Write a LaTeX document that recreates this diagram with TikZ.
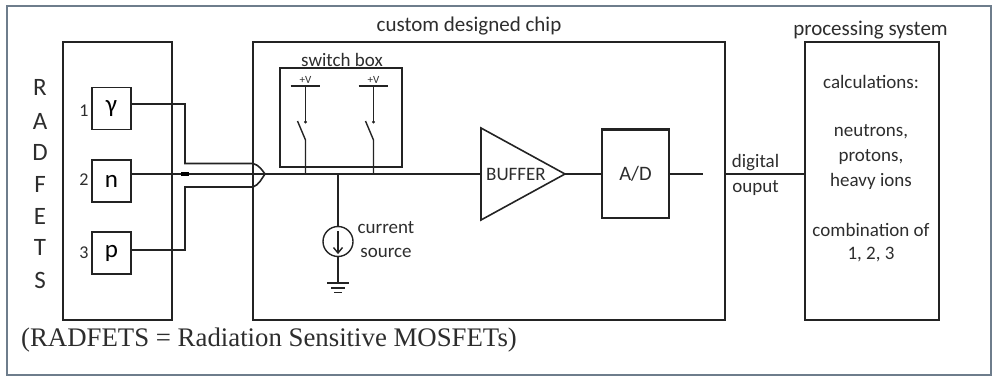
\documentclass[tikz,border=0pt]{standalone}
\usepackage{xcolor}
\usepackage{fontspec}
\setmainfont{Carlito}
\newfontfamily\notefont{Liberation Serif}
\usetikzlibrary{calc}
\definecolor{framegray}{RGB}{110,125,140}
\definecolor{inkgray}{RGB}{35,35,35}
\definecolor{textgray}{RGB}{45,45,45}

\begin{document}
\begin{tikzpicture}[
    x=1pt, y=-1pt,
    block/.style={rectangle, draw=inkgray, line width=1.5pt, inner sep=0pt},
    sensor/.style={block, minimum width=39pt, minimum height=42pt, font=\fontsize{25}{25}\selectfont},
    lbl/.style={inner sep=0pt, text=textgray, font=\fontsize{19}{19}\selectfont},
    head/.style={lbl, font=\fontsize{21}{21}\selectfont},
    num/.style={lbl, font=\fontsize{18}{18}\selectfont},
    letter/.style={lbl, font=\fontsize{25}{25}\selectfont},
    wire/.style={draw=inkgray, line width=1.6pt},
    signal/.style={draw=inkgray, line width=2.2pt},
    thin wire/.style={draw=inkgray, line width=1.4pt}
]
\useasboundingbox (0,0) rectangle (996,377);

% Outer frame
\node[rectangle, draw=framegray, line width=1.8pt, minimum width=984pt, minimum height=369pt, inner sep=0pt] (frame) at (499,190.5) {};

% Main blocks
\node[block, minimum width=109pt, minimum height=278pt] (radfets) at (117.5,181) {};
\node[block, minimum width=472pt, minimum height=278pt] (chip) at (489,181) {};
\node[block, minimum width=134pt, minimum height=278pt] (proc) at (872,181) {};
\node[block, minimum width=122pt, minimum height=99pt] (swbox) at (341,117.5) {};

% Sensors
\node[sensor] (s1) at (111.5,108.5) {γ};
\node[sensor] (s2) at (111.5,181) {n};
\node[sensor] (s3) at (111.5,253) {p};
\node[num] (n1) at (84,111) {1};
\node[num] (n2) at (84,180) {2};
\node[num] (n3) at (84,253) {3};

% Vertical title
\foreach \c/\y in {R/87, A/121, D/152, F/184, E/216, T/247, S/280}
    \node[letter] (t\c) at (40,\y) {\c};

% Combiner
\coordinate (tip) at (265,174);
\coordinate (j1) at (185,104);
\coordinate (j2) at (185,163.5);
\coordinate (j3) at (185,250);
\coordinate (j4) at (185,187);
\coordinate (up) at (253,163.5);
\coordinate (lo) at (253,187);
\coordinate (in2) at (131,174);
\draw[wire] (s1.east |- j1) -- (j1) -- (j2) -- (up) .. controls (259,165) and (262,170) .. (tip);
\draw[wire] (s3.east |- j3) -- (j3) -- (j4) -- (lo) .. controls (259,185) and (262,178) .. (tip);

% Signal line
\coordinate (buf top) at (481,128);
\coordinate (buf bot) at (481,220);
\coordinate (buf tip) at (565,174);
\coordinate (buf in) at (481,174);
\coordinate (out stub) at (703,174);
\draw[signal] (in2) -- (buf in);
\draw[line width=3.5pt, draw=black] (181,174) -- (189,174);
\draw[wire, line join=miter] (buf top) -- (buf tip) -- (buf bot) -- cycle;
\draw[line width=2.4pt, draw=inkgray] (buf top) -- (buf bot);
\node[lbl] (buflbl) at (516,174.5) {BUFFER};

% A/D
\node[block, minimum width=67pt, minimum height=88pt] (adc) at (635.5,174) {};
\draw[line width=2.6pt, draw=inkgray] (adc.north west) -- (adc.north east);
\node[lbl, font=\fontsize{20.5}{20.5}\selectfont] (adlbl) at (635.5,174) {A/D};
\draw[signal] (buf tip) -- (adc.west);
\draw[signal] (adc.east) -- (out stub);
\coordinate (out a) at (725,174);
\draw[signal] (out a) -- (proc.west |- out a);

% Switches
\foreach \n/\x in {a/305.5, b/373.5} {
    \coordinate (rail\n) at (\x,86);
    \coordinate (cl\n) at (\x,122);
    \coordinate (hi\n) at (\x,140);
    \coordinate (low\n) at (\x,174);
    \coordinate (arm\n) at (\x-8,121);
    \coordinate (bl\n) at (\x-15,86);
    \coordinate (br\n) at (\x+14,86);
    \draw[thin wire] (bl\n) -- (br\n);
    \draw[thin wire] (rail\n) -- (cl\n);
    \fill[inkgray] (cl\n) circle (1.6pt);
    \draw[thin wire] (arm\n) -- (hi\n) -- (low\n);
    \node[lbl, font=\fontsize{11}{11}\selectfont] (plus\n) at (\x,80) {+V};
}

% Current source
\node[circle, draw=inkgray, line width=1.4pt, minimum size=30pt, inner sep=0pt] (src) at (338,241.5) {};
\coordinate (tap) at (338,174);
\coordinate (gnd) at (338,283);
\coordinate (arr top) at (338,231);
\coordinate (arr tip) at (338,253);
\draw[wire] (tap) -- (src.north);
\draw[wire] (src.south) -- (gnd);
\draw[thin wire] (arr top) -- (arr tip);
\draw[thin wire] (333.5,247.5) -- (arr tip) -- (342.5,247.5);
\draw[line width=1.6pt, draw=inkgray] (327,283) -- (349,283);
\draw[line width=1.4pt, draw=inkgray] (331,288) -- (345,288);
\draw[line width=1.4pt, draw=inkgray] (334,292.5) -- (342,292.5);

% Labels
\node[head] (chiplbl) at (469,26) {custom designed chip};
\node[lbl] (swlbl) at (342,59.5) {switch box};
\node[head] (proclbl) at (870.5,30) {processing system};
\node[lbl] (curr) at (386,228) {current};
\node[lbl] (srclbl) at (386,253) {source};
\node[lbl] (dig) at (755.5,163) {digital};
\node[lbl] (oup) at (755.5,188.5) {ouput};
\node[lbl] (calc) at (871,82) {calculations:};
\node[lbl] (neu) at (871,132) {neutrons,};
\node[lbl] (pro) at (871,157) {protons,};
\node[lbl] (hvy) at (871,181) {heavy ions};
\node[lbl] (comb) at (871,230) {combination of};
\node[lbl] (nums) at (871,255) {1, 2, 3};
\node[inner sep=0pt, text=textgray, font=\notefont\fontsize{26.8}{26.8}\selectfont] (note) at (269,340) {(RADFETS = Radiation Sensitive MOSFETs)};

\end{tikzpicture}
\end{document}
